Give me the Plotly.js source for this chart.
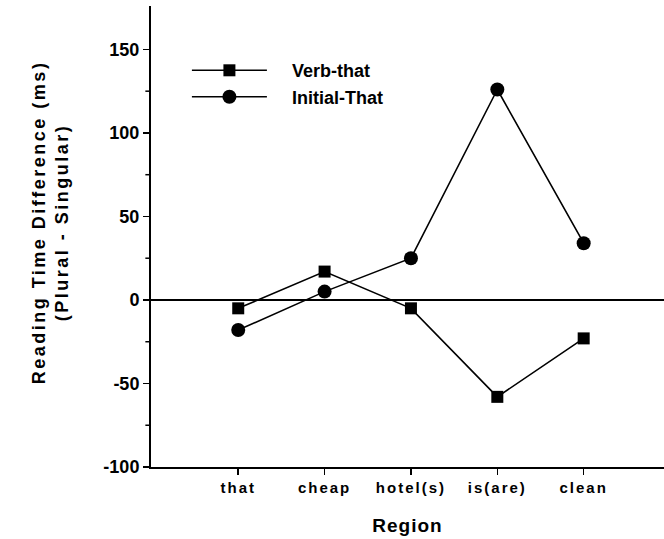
<!DOCTYPE html>
<html>
<head>
<meta charset="utf-8">
<script src="https://cdn.plot.ly/plotly-3.0.1.min.js"></script>
<style>
html,body{margin:0;padding:0;background:#fff;}
#chart{width:664px;height:539px;}
.xtick text{letter-spacing:2px;}
.g-ytitle text{letter-spacing:2.5px;}
.g-ytitle{transform:translate(10px,-14px);}
.g-xtitle text{letter-spacing:1px;}
</style>
</head>
<body>
<div id="chart"></div>
<script>
var regions = ["that", "cheap", "hotel(s)", "is(are)", "clean"];
var verbThat = [-5, 17, -5, -58, -23];
var initialThat = [-18, 5, 25, 126, 34];
var yTickVals = [-100, -50, 0, 50, 100, 150];
var yTickText = ["-100", "-50", "0", "50", "100", "150"];
var yMinorVals = [-75, -25, 25, 75, 125];
var yRange = [-100, 176];

var FONT = "Liberation Sans, Arial, Helvetica, sans-serif";
var xIdx = regions.map(function (_, i) { return i; });

var traces = [
  {
    x: xIdx, y: verbThat, name: "&nbsp;&nbsp;&nbsp;&nbsp;Verb-that", type: "scatter", mode: "lines+markers",
    line: {color: "#000", width: 1.6},
    marker: {symbol: "square", size: 12, color: "#000"}
  },
  {
    x: xIdx, y: initialThat, name: "&nbsp;&nbsp;&nbsp;&nbsp;Initial-That", type: "scatter", mode: "lines+markers",
    line: {color: "#000", width: 1.6},
    marker: {symbol: "circle", size: 14, color: "#000"}
  }
];

// short minor tick marks on the y axis (paper coords derived from the axis range so they are not clipped)
function yToPaper(v) { return (v - yRange[0]) / (yRange[1] - yRange[0]); }
var minorTickShapes = yMinorVals.map(function (v) {
  return {
    type: "line", xref: "paper", yref: "paper", layer: "above",
    x0: -0.011, x1: -0.001, y0: yToPaper(v), y1: yToPaper(v),
    line: {color: "#000", width: 1.5}
  };
});

var layout = {
  width: 664, height: 539,
  margin: {l: 151, r: 0, t: 6, b: 72},
  paper_bgcolor: "#fff", plot_bgcolor: "#fff",
  font: {family: FONT, color: "#000", size: 14, weight: "bold"},
  showlegend: true,
  legend: {
    x: 0.07, y: 0.9, xanchor: "left", yanchor: "top",
    bgcolor: "rgba(0,0,0,0)", itemwidth: 75,
    font: {family: FONT, size: 18, color: "#000", weight: "bold"},
    tracegroupgap: 0
  },
  shapes: minorTickShapes,
  xaxis: {
    range: [-1.01, 4.93],
    tickvals: xIdx, ticktext: regions,
    ticks: "outside", ticklen: 6, tickwidth: 1.5, tickcolor: "#000",
    showline: true, linecolor: "#000", linewidth: 2,
    showgrid: false, zeroline: false,
    tickfont: {family: FONT, size: 15, weight: "bold"},
    title: {text: "Region", font: {family: FONT, size: 19, weight: "bold"}, standoff: 24}
  },
  yaxis: {
    range: yRange,
    tickvals: yTickVals, ticktext: yTickText,
    ticks: "outside", ticklen: 6, tickwidth: 1.5, tickcolor: "#000",
    showline: true, linecolor: "#000", linewidth: 2,
    showgrid: false,
    zeroline: true, zerolinecolor: "#000", zerolinewidth: 1.5,
    tickfont: {family: FONT, size: 18, weight: "bold"},
    title: {text: "Reading Time Difference (ms)<br>(Plural - Singular)", font: {family: FONT, size: 18, weight: "bold"}, standoff: 40}
  }
};

Plotly.newPlot("chart", traces, layout, {displayModeBar: false, staticPlot: true});
</script>
</body>
</html>
